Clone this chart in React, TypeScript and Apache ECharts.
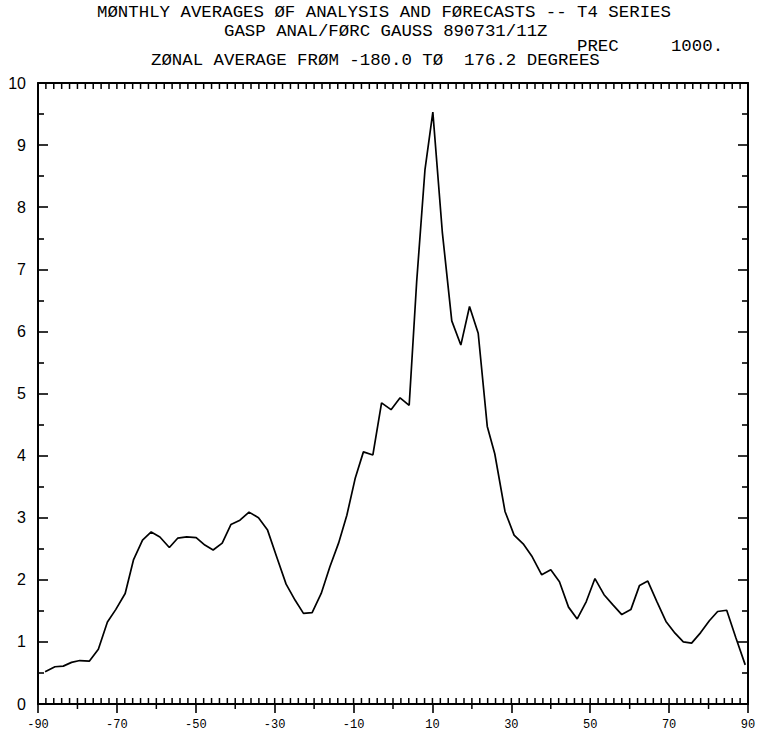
import { useEffect, useRef } from "react";
import * as echarts from "echarts";

// Gaussian-grid latitudes (degrees) and zonal-mean precipitation at each
const latitudes = [
  -88.2, -85.7, -83.6, -81.5, -79.4, -77.0, -74.7, -72.4, -70.3, -67.9,
  -65.8, -63.5, -61.3, -59.1, -56.7, -54.6, -52.3, -49.9, -47.7, -45.6,
  -43.3, -41.1, -38.8, -36.5, -34.1, -31.8, -29.5, -27.1, -24.8, -22.7,
  -20.5, -18.2, -16.0, -13.8, -11.7, -9.6, -7.5, -5.1, -2.9, -0.5,
  1.8, 4.1, 6.0, 8.1, 10.1, 12.5, 14.9, 17.2, 19.4, 21.6,
  23.9, 25.8, 28.4, 30.7, 33.0, 35.3, 37.7, 40.0, 42.2, 44.5,
  46.7, 49.0, 51.2, 53.5, 55.7, 58.0, 60.3, 62.5, 64.6, 66.9,
  69.2, 71.5, 73.6, 75.7, 78.0, 80.2, 82.3, 84.6, 86.9, 89.3,
];

const precipitation = [
  0.52, 0.6, 0.61, 0.67, 0.7, 0.69, 0.88, 1.32, 1.52, 1.78,
  2.32, 2.64, 2.77, 2.69, 2.52, 2.67, 2.69, 2.68, 2.56, 2.48,
  2.59, 2.89, 2.96, 3.09, 3.0, 2.8, 2.37, 1.93, 1.67, 1.46,
  1.47, 1.78, 2.21, 2.59, 3.04, 3.63, 4.06, 4.01, 4.85, 4.74,
  4.93, 4.81, 6.8, 8.6, 9.53, 7.6, 6.17, 5.78, 6.4, 5.97,
  4.47, 4.03, 3.1, 2.72, 2.58, 2.37, 2.08, 2.16, 1.97, 1.56,
  1.37, 1.65, 2.02, 1.76, 1.6, 1.44, 1.52, 1.91, 1.98, 1.65,
  1.33, 1.14, 1.0, 0.98, 1.15, 1.34, 1.49, 1.51, 1.07, 0.63,
];

// Fine latitude tick marks drawn along the top and bottom frame
const latitudeTicks = [
  -90, -88, -86, -84, -82, -80, -78, -76, -74, -72,
  -70, -68, -66, -64, -62, -60, -58, -56, -54, -52,
  -50, -48, -46, -44, -42, -40, -38, -36, -34, -32,
  -30, -28, -26, -24, -22, -20, -18, -16, -14, -12,
  -10, -8, -6, -4, -2, 0, 2, 4, 6, 8,
  10, 12, 14, 16, 18, 20, 22, 24, 26, 28,
  30, 32, 34, 36, 38, 40, 42, 44, 46, 48,
  50, 52, 54, 56, 58, 60, 62, 64, 66, 68,
  70, 72, 74, 76, 78, 80, 82, 84, 86, 88, 90,
];

const titleLines = [
  "MØNTHLY AVERAGES ØF ANALYSIS AND FØRECASTS -- T4 SERIES",
  "GASP ANAL/FØRC GAUSS 890731/11Z",
  "PREC     1000.",
  "ZØNAL AVERAGE FRØM -180.0 TØ  176.2 DEGREES",
];

const LAT_MIN = -90;
const LAT_MAX = 90;
const LAT_LABEL_STEP = 20;
const PREC_MIN = 0;
const PREC_MAX = 10;
const PREC_STEP = 1;

const INK = "#000";
const MONO = "'Liberation Mono', 'DejaVu Sans Mono', monospace";

// each tick element gets its own style object
const tick = (x1: number, y1: number, x2: number, y2: number, hidden = false) => ({
  type: "line",
  invisible: hidden,
  shape: { x1, y1, x2, y2 },
  style: { stroke: "#000000", lineWidth: 1.5 },
});

export default function App() {
  const ref = useRef<HTMLDivElement>(null);

  useEffect(() => {
    if (!ref.current) return;
    const chart = echarts.init(ref.current, null, { renderer: "svg" });

    const titlePos = [
      { x: 97, y: 13 },
      { x: 224, y: 31.5 },
      { x: 577, y: 46.5 },
      { x: 151, y: 61 },
    ];

    const noSplit = { show: false };

    const yAxisBase = {
      type: "value" as const,
      min: PREC_MIN,
      max: PREC_MAX,
      interval: PREC_STEP,
      axisLine: { show: true, onZero: false, lineStyle: { color: INK, width: 2 } },
      axisTick: { show: true, inside: true, length: 10, lineStyle: { color: INK, width: 1.6 } },
      minorTick: { show: true, splitNumber: 2, length: 6, lineStyle: { color: INK, width: 1.6 } },
      splitLine: noSplit,
      minorSplitLine: noSplit,
    };

    chart.setOption({
      animation: false,
      backgroundColor: "#fff",
      grid: { left: 38, right: 11, top: 83, bottom: 30, containLabel: false },
      xAxis: [
        {
          type: "value",
          position: "bottom",
          min: LAT_MIN,
          max: LAT_MAX,
          interval: LAT_LABEL_STEP,
          axisLine: { show: true, onZero: false, lineStyle: { color: INK, width: 2 } },
          axisTick: { show: true, inside: false, length: 9, lineStyle: { color: INK, width: 1.6 } },
          minorTick: { show: false },
          axisLabel: {
            show: true,
            margin: 15,
            color: INK,
            fontFamily: MONO,
            fontSize: 12,
          },
          splitLine: noSplit,
        },
        {
          type: "value",
          position: "top",
          min: LAT_MIN,
          max: LAT_MAX,
          interval: LAT_LABEL_STEP,
          axisLine: { show: true, onZero: false, lineStyle: { color: INK, width: 1.8 } },
          axisTick: { show: false },
          axisLabel: { show: false },
          splitLine: noSplit,
        },
      ],
      yAxis: [
        {
          ...yAxisBase,
          position: "left",
          axisLabel: {
            show: true,
            margin: 12,
            color: INK,
            fontFamily: "'Liberation Sans', Arial, sans-serif",
            fontSize: 16,
          },
        },
        {
          ...yAxisBase,
          position: "right",
          axisLabel: { show: false },
        },
      ],
      graphic: titleLines.map((line, i) => ({
        type: "text",
        left: titlePos[i].x,
        top: titlePos[i].y - 9,
        style: {
          text: line,
          fill: INK,
          font: `17.4px ${MONO}`,
        },
      })),
      series: [
        {
          // comb of short inward ticks on the top and bottom frame,
          // plus outward ticks at the unlabelled ten-degree marks
          type: "custom",
          coordinateSystem: "cartesian2d",
          xAxisIndex: 0,
          yAxisIndex: 0,
          clip: false,
          silent: true,
          encode: { x: 0, y: 1 },
          data: latitudeTicks.map((lat) => [lat, PREC_MIN]),
          renderItem: (_params: any, api: any) => {
            const lat = api.value(0);
            const bottom = api.coord([lat, PREC_MIN]);
            const top = api.coord([lat, PREC_MAX]);
            const x = bottom[0];
            const isDecade = lat % 10 === 0 && (lat - LAT_MIN) % LAT_LABEL_STEP !== 0;
            return {
              type: "group",
              children: [
                tick(x, bottom[1], x, bottom[1] - 6),
                tick(x, top[1], x, top[1] + 6),
                tick(x, bottom[1], x, bottom[1] + 5, !isDecade),
              ],
            };
          },
        },
        {
          type: "line",
          xAxisIndex: 0,
          yAxisIndex: 0,
          data: latitudes.map((lat, i) => [lat, precipitation[i]]),
          showSymbol: false,
          symbol: "none",
          lineStyle: { color: INK, width: 1.7 },
          silent: true,
        },
      ],
    });

    return () => chart.dispose();
  }, []);

  return (
    <div
      ref={ref}
      style={{ position: "fixed", left: 0, top: 0, width: 759, height: 734 }}
    />
  );
}
